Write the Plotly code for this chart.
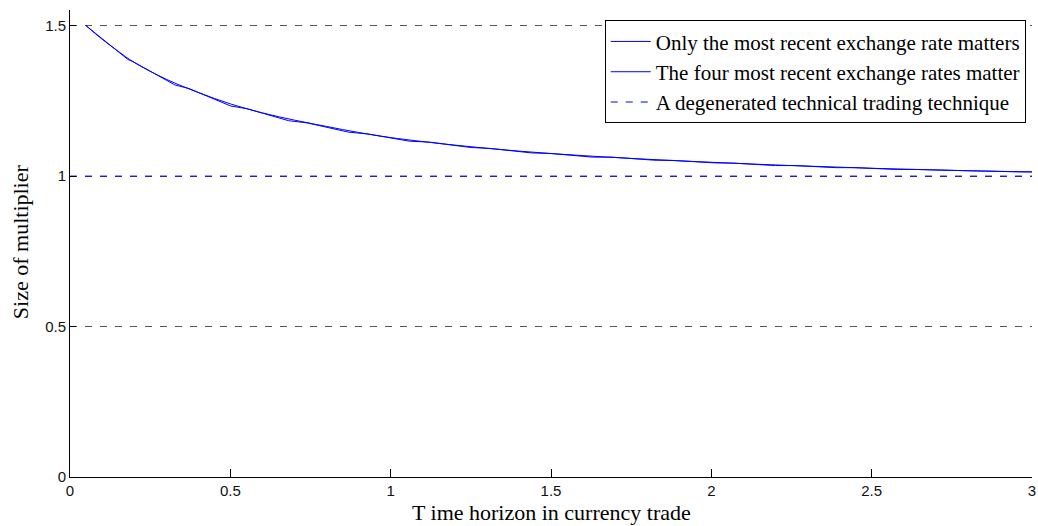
import plotly.graph_objects as go

# Data
x_recent = [0.05, 0.1, 0.15, 0.2, 0.3, 0.4, 0.5, 0.6, 0.7, 0.8, 0.9, 1.0,
            1.2, 1.4, 1.6, 1.8, 2.0, 2.25, 2.5, 2.75, 3.0]
y_recent = [1.500, 1.455, 1.415, 1.378, 1.322, 1.278, 1.240, 1.210, 1.186, 1.165,
            1.145, 1.128, 1.103, 1.083, 1.068, 1.056, 1.046, 1.035, 1.026, 1.019, 1.014]

x_four = [0.05, 0.18, 0.197, 0.327, 0.371, 0.501, 0.552, 0.682, 0.739, 0.869,
          0.929, 1.059, 1.12, 1.25, 1.31, 1.44, 1.50, 1.63, 1.69, 1.82,
          1.88, 2.01, 2.07, 2.20, 2.26, 2.39, 2.45, 2.58, 2.64, 2.77,
          2.83, 2.96, 3.0]
y_four = [1.500, 1.388, 1.380, 1.303, 1.291, 1.233, 1.224, 1.184, 1.177, 1.146,
          1.140, 1.116, 1.113, 1.095, 1.092, 1.077, 1.075, 1.063, 1.063, 1.053,
          1.052, 1.044, 1.043, 1.035, 1.035, 1.028, 1.028, 1.022, 1.022, 1.017,
          1.017, 1.014, 1.014]

x_degen = [0, 3]
y_degen = [1.0, 1.0]

series_names = ["Only the most recent exchange rate matters",
                "The four most recent exchange rates matter",
                "A degenerated technical trading technique"]

x_ticks = [0, 0.5, 1, 1.5, 2, 2.5, 3]
x_ticklabels = ["0", "0.5", "1", "1.5", "2", "2.5", "3"]
y_ticks = [0, 0.5, 1, 1.5]
y_ticklabels = ["0", "0.5", "1", "1.5"]

x_title = "T ime horizon in currency trade"
y_title = "Size of multiplier"

BLUE = "#0000ff"
SERIF = "Liberation Serif, Times New Roman, serif"
SANS = "Liberation Sans, Arial, Helvetica, sans-serif"

fig = go.Figure()
fig.add_trace(go.Scatter(x=x_recent, y=y_recent, mode="lines", name=series_names[0],
                         line=dict(color=BLUE, width=1, shape="spline")))
fig.add_trace(go.Scatter(x=x_four, y=y_four, mode="lines", name=series_names[1],
                         line=dict(color=BLUE, width=1)))
fig.add_trace(go.Scatter(x=x_degen, y=y_degen, mode="lines", name=series_names[2],
                         line=dict(color=BLUE, width=1, dash="7px,8px")))

fig.update_layout(
    width=1038, height=526,
    margin=dict(l=70, r=6, t=10, b=49),
    paper_bgcolor="white", plot_bgcolor="white",
    font=dict(family=SANS, size=15, color="#111"),
    showlegend=True,
    legend=dict(x=0.9935, y=0.978, xanchor="right", yanchor="top",
                bgcolor="white", bordercolor="black", borderwidth=1,
                font=dict(family=SERIF, size=21, color="black"),
                tracegroupgap=0, itemwidth=40),
    xaxis=dict(range=[0, 3], tickvals=x_ticks, ticktext=x_ticklabels,
               showline=True, linecolor="black", linewidth=1,
               ticks="inside", ticklen=8, tickcolor="black",
               showgrid=False, zeroline=False, automargin=False,
               ticklabeloverflow="allow",
               tickfont=dict(family=SANS, size=15, color="#111")),
    yaxis=dict(range=[0, 1.552], tickvals=y_ticks, ticktext=y_ticklabels,
               showline=True, linecolor="black", linewidth=1,
               ticks="inside", ticklen=6, tickcolor="black",
               showgrid=True, gridcolor="#555", gridwidth=1, griddash="7px,8px",
               zeroline=False, automargin=False,
               ticklabeloverflow="allow",
               tickfont=dict(family=SANS, size=15, color="#111")),
    annotations=[
        dict(text=x_title, xref="paper", yref="paper", x=0.5, y=-0.075,
             xanchor="center", yanchor="middle", showarrow=False,
             font=dict(family=SERIF, size=22, color="black")),
        dict(text=y_title, xref="paper", yref="paper", x=-0.052, y=0.505,
             xanchor="center", yanchor="middle", showarrow=False, textangle=-90,
             font=dict(family=SERIF, size=22, color="black")),
    ],
)

fig.write_html("out.html",
               config={"displayModeBar": False},
               post_script="document.body.style.margin='0';document.body.style.padding='0';")
